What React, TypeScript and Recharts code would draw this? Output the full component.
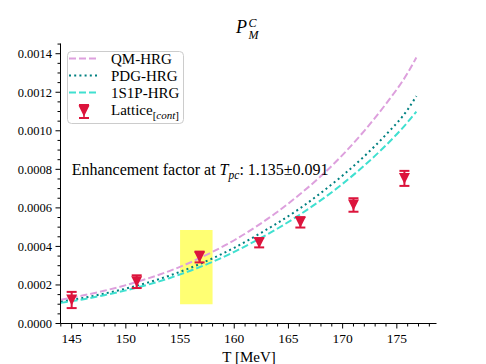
import React from 'react';
import { ComposedChart, Line, Scatter, XAxis, YAxis, ErrorBar, ReferenceArea } from 'recharts';

// ---- data ----
const curveT = [144, 146, 148, 150, 152, 154, 156, 158, 160, 162, 164, 166, 168, 170, 172, 174, 176, 176.8];
const qmValues = [0.000123, 0.000145, 0.00017, 0.000199, 0.000233, 0.000272, 0.000318, 0.000372, 0.000432, 0.000502, 0.00058, 0.000668, 0.000765, 0.000875, 0.001, 0.00114, 0.0013, 0.00138];
const pdgValues = [0.000113, 0.000132, 0.000155, 0.000181, 0.000212, 0.000248, 0.00029, 0.000338, 0.000393, 0.000455, 0.000522, 0.000595, 0.000678, 0.000768, 0.000868, 0.00098, 0.00111, 0.00118];
const s1pValues = [0.000107, 0.000125, 0.000147, 0.000172, 0.000201, 0.000235, 0.000275, 0.00032, 0.000372, 0.00043, 0.000493, 0.000563, 0.00064, 0.000725, 0.00082, 0.000925, 0.001045, 0.0011];

const latticeT = [145, 151, 156.8, 162.3, 166.1, 171, 175.7];
const latticeValues = [0.000122, 0.000217, 0.000345, 0.000419, 0.000525, 0.000615, 0.000753];
const latticeErrors = [0.000042, 0.000033, 0.000028, 0.000024, 0.000027, 0.000035, 0.000039];

const tpcBand = { x1: 155, x2: 158, y1: 0.0001, y2: 0.000485 };

const xMajorTicks = [145, 150, 155, 160, 165, 170, 175];
const yMajorTicks = [0, 0.0002, 0.0004, 0.0006, 0.0008, 0.001, 0.0012, 0.0014];
const xDomain = [143.97, 178.66];
const yDomain = [0, 0.001453];

const xAllTicks = Array.from({ length: 35 }, (_, i) => 144 + i);
const yAllTicks = Array.from({ length: 30 }, (_, i) => Math.round(i * 5) / 100000);

const qmData = curveT.map((x, i) => ({ x, y: qmValues[i] }));
const pdgData = curveT.map((x, i) => ({ x, y: pdgValues[i] }));
const s1pData = curveT.map((x, i) => ({ x, y: s1pValues[i] }));
const latticeData = latticeT.map((x, i) => ({ x, y: latticeValues[i], err: latticeErrors[i] }));

// ---- styles ----
const FONT = '"Liberation Serif", "Times New Roman", serif';
const textStyle = { fontFamily: FONT };
const QM_COLOR = '#DDA0DD';
const PDG_COLOR = '#008080';
const S1P_COLOR = '#40E0D0';
const LAT_COLOR = '#DC143C';

const isMajorX = (v: number) => xMajorTicks.some((t) => Math.abs(t - v) < 1e-9);
const isMajorY = (v: number) => yMajorTicks.some((t) => Math.abs(t - v) < 1e-12);

const XTick = (props: any) => {
  const { x, y, payload } = props;
  const major = isMajorX(payload.value);
  return (
    <g>
      <line x1={x} x2={x} y1={y} y2={y + (major ? 5 : 3)} stroke="#000" strokeWidth={1} />
      {major && (
        <text x={x} y={y + 19.5} textAnchor="middle" fontSize={13.5} style={textStyle} fill="#000">
          {payload.value}
        </text>
      )}
    </g>
  );
};

const YTickLeft = (props: any) => {
  const { x, y, payload } = props;
  const major = isMajorY(payload.value);
  return (
    <g>
      <line x1={x} x2={x - (major ? 5 : 3)} y1={y} y2={y} stroke="#000" strokeWidth={1} />
      {major && (
        <text x={x - 8.5} y={y} dy="0.35em" textAnchor="end" fontSize={12.5} style={textStyle} fill="#000">
          {Number(payload.value).toFixed(4)}
        </text>
      )}
    </g>
  );
};

const YTickRight = (props: any) => {
  const { x, y, payload } = props;
  const major = isMajorY(payload.value);
  return <line x1={x} x2={x + (major ? 5 : 3)} y1={y} y2={y} stroke="#000" strokeWidth={1} />;
};

const TriangleDown = (props: any) => {
  const { cx, cy } = props;
  if (cx == null || cy == null) return null;
  const s = 5.5;
  return <polygon points={`${cx - s},${cy - s} ${cx + s},${cy - s} ${cx},${cy + s}`} fill={LAT_COLOR} />;
};

const Overlay = () => (
  <svg width={486} height={364} style={{ position: 'absolute', left: 0, top: 0, pointerEvents: 'none' }}>
    {/* title */}
    <text x={236} y={33.3} fontSize={18} fontStyle="italic" style={textStyle} fill="#000">P</text>
    <text x={248.5} y={26.5} fontSize={12} fontStyle="italic" style={textStyle} fill="#000">C</text>
    <text x={248.5} y={39} fontSize={12} fontStyle="italic" style={textStyle} fill="#000">M</text>

    {/* x label */}
    <text x={249} y={361.5} textAnchor="middle" fontSize={15} style={textStyle} fill="#000">T [MeV]</text>

    {/* legend */}
    <rect x={67.5} y={51.5} width={116} height={72} rx={4} fill="#fff" fillOpacity={0.8} stroke="#cccccc" strokeWidth={1} />
    <line x1={69} x2={99} y1={58.5} y2={58.5} stroke={QM_COLOR} strokeWidth={2} strokeDasharray="7 3" />
    <text x={111} y={63.5} fontSize={15} style={textStyle} fill="#000">QM-HRG</text>
    <line x1={69} x2={99} y1={75.5} y2={75.5} stroke={PDG_COLOR} strokeWidth={2} strokeDasharray="2 3.2" />
    <text x={111} y={80.5} fontSize={15} style={textStyle} fill="#000">PDG-HRG</text>
    <line x1={69} x2={99} y1={92.5} y2={92.5} stroke={S1P_COLOR} strokeWidth={2} strokeDasharray="7 3" />
    <text x={111} y={97.5} fontSize={15} style={textStyle} fill="#000">1S1P-HRG</text>
    <line x1={84} x2={84} y1={105} y2={118} stroke={LAT_COLOR} strokeWidth={1.5} />
    <line x1={79} x2={89} y1={105} y2={105} stroke={LAT_COLOR} strokeWidth={2} />
    <line x1={79} x2={89} y1={118} y2={118} stroke={LAT_COLOR} strokeWidth={2} />
    <polygon points="78.5,105.5 89.5,105.5 84,116.5" fill={LAT_COLOR} />
    <text x={111} y={115} fontSize={15} style={textStyle} fill="#000">
      Lattice
      <tspan fontSize={11} dy={4}>[</tspan>
      <tspan fontSize={11} fontStyle="italic">cont</tspan>
      <tspan fontSize={11}>]</tspan>
    </text>

    {/* annotation */}
    <text x={71.7} y={175} fontSize={16} style={textStyle} fill="#000">
      Enhancement factor at{' '}
      <tspan fontStyle="italic">T</tspan>
      <tspan fontStyle="italic" fontSize={11.5} dy={3.5}>pc</tspan>
      <tspan dy={-3.5}>: 1.135±0.091</tspan>
    </text>
  </svg>
);

export default function App() {
  return (
    <div style={{ position: 'absolute', left: 0, top: 0, width: 486, height: 364, background: '#fff' }}>
      <ComposedChart width={486} height={364} margin={{ top: 43.5, right: 49.5, bottom: 0, left: 0.5 }}>
        <XAxis
          xAxisId="bottom"
          dataKey="x"
          type="number"
          domain={xDomain}
          allowDataOverflow
          ticks={xAllTicks}
          interval={0}
          height={40.5}
          tickSize={0}
          tickMargin={0}
          tickLine={false}
          axisLine={{ stroke: '#000', strokeWidth: 1 }}
          tick={<XTick />}
        />
        <XAxis
          xAxisId="top"
          orientation="top"
          dataKey="x"
          type="number"
          domain={xDomain}
          allowDataOverflow
          height={0}
          tick={false}
          tickLine={false}
          axisLine={{ stroke: '#000', strokeWidth: 1 }}
        />
        <YAxis
          yAxisId="left"
          dataKey="y"
          type="number"
          domain={yDomain}
          allowDataOverflow
          ticks={yAllTicks}
          interval={0}
          width={60}
          tickSize={0}
          tickMargin={0}
          tickLine={false}
          axisLine={{ stroke: '#000', strokeWidth: 1 }}
          tick={<YTickLeft />}
        />
        <YAxis
          yAxisId="right"
          orientation="right"
          dataKey="y"
          type="number"
          domain={yDomain}
          allowDataOverflow
          ticks={yAllTicks}
          interval={0}
          width={0}
          tickSize={0}
          tickMargin={0}
          tickLine={false}
          axisLine={{ stroke: '#000', strokeWidth: 1 }}
          tick={<YTickRight />}
        />
        <ReferenceArea
          xAxisId="bottom"
          yAxisId="left"
          x1={tpcBand.x1}
          x2={tpcBand.x2}
          y1={tpcBand.y1}
          y2={tpcBand.y2}
          fill="#ffff00"
          fillOpacity={0.55}
          stroke="none"
        />
        <Line xAxisId="bottom" yAxisId="left" data={qmData} dataKey="y" type="monotone" stroke={QM_COLOR} strokeWidth={2} strokeDasharray="7 3" dot={false} isAnimationActive={false} />
        <Line xAxisId="bottom" yAxisId="left" data={pdgData} dataKey="y" type="monotone" stroke={PDG_COLOR} strokeWidth={2} strokeDasharray="2 3.2" dot={false} isAnimationActive={false} />
        <Line xAxisId="bottom" yAxisId="left" data={s1pData} dataKey="y" type="monotone" stroke={S1P_COLOR} strokeWidth={2} strokeDasharray="7 3" dot={false} isAnimationActive={false} />
        <Scatter xAxisId="bottom" yAxisId="left" data={latticeData} dataKey="y" fill={LAT_COLOR} shape={<TriangleDown />} isAnimationActive={false}>
          <ErrorBar dataKey="err" direction="y" width={5} strokeWidth={2} stroke={LAT_COLOR} isAnimationActive={false} />
        </Scatter>
      </ComposedChart>
      <Overlay />
    </div>
  );
}
